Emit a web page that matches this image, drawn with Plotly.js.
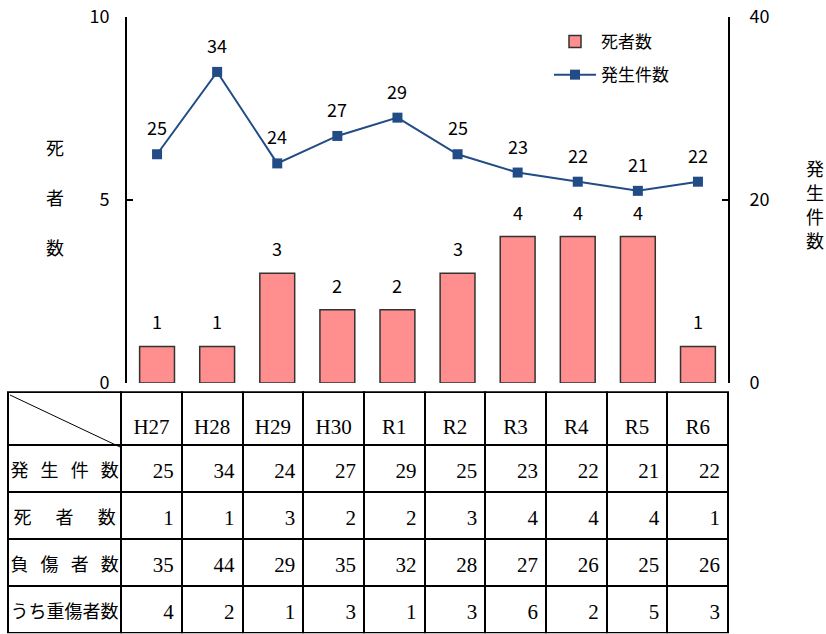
<!DOCTYPE html>
<html>
<head>
<meta charset="utf-8">
<script src="https://cdn.plot.ly/plotly-3.0.1.min.js"></script>
<style>html,body{margin:0;padding:0;background:#fff;}#chart{width:826px;height:634px;}</style>
</head>
<body>
<div id="chart"></div>
<script>
// ---- data ----
var years = ['H27','H28','H29','H30','R1','R2','R3','R4','R5','R6'];
var incidents = [25, 34, 24, 27, 29, 25, 23, 22, 21, 22];   // 発生件数
var deaths = [1, 1, 3, 2, 2, 3, 4, 4, 4, 1];                 // 死者数
var injured = [35, 44, 29, 35, 32, 28, 27, 26, 25, 26];      // 負傷者数
var seriouslyInjured = [4, 2, 1, 3, 1, 3, 6, 2, 5, 3];       // うち重傷者数
var NB = '\u00A0';
var rowLabels = ['発' + NB+NB+NB + '生' + NB+NB+NB + '件' + NB+NB+NB + '数',
                 '死' + NB+NB+NB+NB+NB+NB + '者' + NB+NB+NB+NB+NB+NB + '数',
                 '負' + NB+NB+NB + '傷' + NB+NB+NB + '者' + NB+NB+NB + '数',
                 'うち重傷者数'];
var leftTitle = ['死', '者', '数'];
var rightTitle = ['発', '生', '件', '数'];

var W = 826, H = 634;
var sans = 'Noto Sans CJK JP, sans-serif';
var serif = 'Liberation Serif, serif';

var barTrace = {
  type: 'bar', x: years, y: deaths, name: '死者数',
  width: 0.58,
  marker: {color: '#FF8E8E', line: {color: '#333333', width: 1.5}},
  xaxis: 'x', yaxis: 'y', legendgroup: 'a', hoverinfo: 'skip'
};
var lineTrace = {
  type: 'scatter', mode: 'lines+markers', x: years, y: incidents, name: '発生件数',
  line: {color: '#214C85', width: 2},
  marker: {symbol: 'square', size: 10, color: '#214C85'},
  xaxis: 'x', yaxis: 'y2', legendgroup: 'b', hoverinfo: 'skip'
};

// table
var headerVals = [''].concat(years).map(function(v){return [v];});
var colVals = [rowLabels];
for (var i = 0; i < years.length; i++) {
  colVals.push([incidents[i], deaths[i], injured[i], seriouslyInjured[i]]);
}
var colFonts = [sans];
var colSizes = [18];
var colAlign = ['center'];
for (var j = 0; j < years.length; j++) { colFonts.push(serif); colSizes.push(21); colAlign.push('right'); }
var colWidths = [113];
for (var k = 0; k < years.length; k++) colWidths.push(60.6);

var tableTrace = {
  type: 'table',
  domain: {x: [8/W, 728/W], y: [0, (H-393)/H + 0.001]},
  columnwidth: colWidths,
  header: {
    values: headerVals,
    align: 'center',
    height: 53,
    line: {color: '#000', width: 2},
    fill: {color: '#fff'},
    font: {family: serif, size: 21, color: '#000'}
  },
  cells: {
    values: colVals,
    align: colAlign,
    height: 47,
    line: {color: '#000', width: 2},
    fill: {color: '#fff'},
    font: {family: colFonts, size: colSizes, color: '#000'}
  }
};

var annotations = [];
years.forEach(function(y, i) {
  annotations.push({x: y, y: deaths[i], xref: 'x', yref: 'y', text: String(deaths[i]),
    showarrow: false, yanchor: 'middle', yshift: 25, font: {family: sans, size: 18, color: '#000'}});
  annotations.push({x: y, y: incidents[i], xref: 'x', yref: 'y2', text: String(incidents[i]),
    showarrow: false, yanchor: 'middle', yshift: 27, font: {family: sans, size: 18, color: '#000'}});
});
leftTitle.forEach(function(ch, i) {
  annotations.push({xref: 'paper', yref: 'paper', x: 55/W, y: 1 - (147 + 50 * i)/H, xanchor: 'center', yanchor: 'middle',
    text: ch, showarrow: false, borderpad: 0, font: {family: sans, size: 18, color: '#000'}});
});
rightTitle.forEach(function(ch, i) {
  annotations.push({xref: 'paper', yref: 'paper', x: 815/W, y: 1 - (168 + 24 * i)/H, xanchor: 'center', yanchor: 'middle',
    text: ch, showarrow: false, borderpad: 0, font: {family: sans, size: 18, color: '#000'}});
});

var layout = {
  width: W, height: H,
  margin: {l: 0, r: 0, t: 0, b: 0},
  paper_bgcolor: '#fff', plot_bgcolor: 'rgba(0,0,0,0)',
  showlegend: true,
  legend: {x: 549/W, y: 1 - 24/H, xanchor: 'left', yanchor: 'top', bgcolor: 'rgba(0,0,0,0)',
    itemwidth: 42,
    font: {family: sans, size: 17, color: '#000'}, traceorder: 'grouped', tracegroupgap: 8},
  xaxis: {domain: [127/W, 728/W], range: [-0.5, 9.5], anchor: 'y', showticklabels: false, showline: false, ticks: '',
    showgrid: false, zeroline: false, fixedrange: true},
  yaxis: {domain: [(H-383)/H, (H-17)/H], range: [0, 10], tickvals: [0, 5, 10],
    showline: true, linecolor: '#000', linewidth: 2, ticks: 'inside', ticklen: 6, tickwidth: 2, tickcolor: '#000',
    showgrid: false, zeroline: false, ticklabelstandoff: 12,
    tickfont: {family: sans, size: 18, color: '#000'}, fixedrange: true},
  yaxis2: {domain: [(H-383)/H, (H-17)/H], range: [0, 40], tickvals: [0, 20, 40], overlaying: 'y', side: 'right',
    anchor: 'x',
    showline: true, linecolor: '#000', linewidth: 2, ticks: 'inside', ticklen: 6, tickwidth: 2, tickcolor: '#000',
    showgrid: false, zeroline: false, ticklabelstandoff: 16,
    tickfont: {family: sans, size: 18, color: '#000'}, fixedrange: true},
  annotations: annotations,
  shapes: [{type: 'line', xref: 'paper', yref: 'paper', x0: 10/W, y0: 1 - 395/H, x1: 120/W, y1: 1 - 447/H,
    line: {color: '#000', width: 1}}]
};

Plotly.newPlot('chart', [barTrace, lineTrace, tableTrace], layout, {displayModeBar: false}).then(function(gd) {
  // vertically centre the table texts within their cells (Plotly tables top-align text)
  gd.querySelectorAll('g.column-cell').forEach(function(cell) {
    var r = cell.querySelector('rect.cell-rect');
    var t = cell.querySelector('text.cell-text');
    if (!r || !t || !t.textContent) return;
    var rb = r.getBoundingClientRect(), tb = t.getBoundingClientRect();
    var isHeader = rb.height > 50;
    var isLabel = rb.width > 100;
    var extra = isHeader ? 8 : (isLabel ? 0 : 2);
    var d = (rb.top + rb.height / 2) - (tb.top + tb.height / 2) + extra;
    var prev = t.getAttribute('transform') || '';
    t.setAttribute('transform', prev + ' translate(0,' + d.toFixed(1) + ')');
  });
});
</script>
</body>
</html>
